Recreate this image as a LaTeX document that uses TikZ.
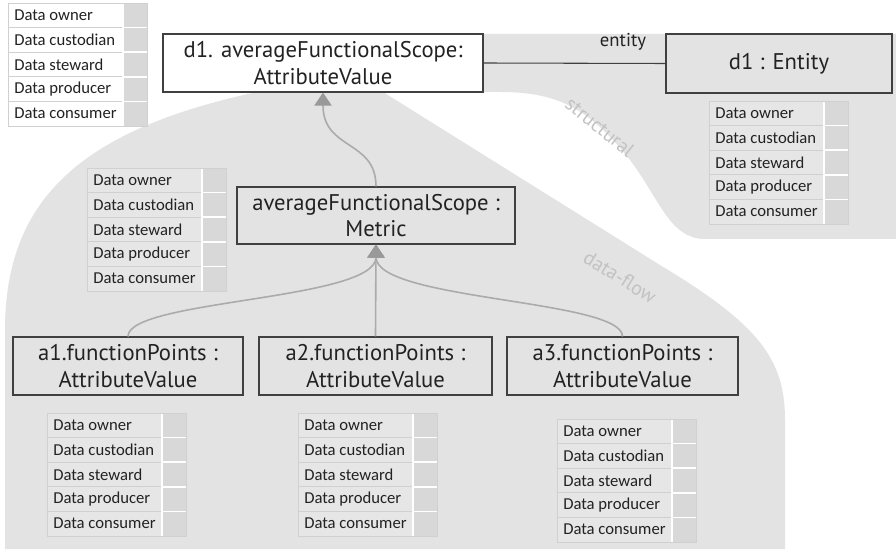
\documentclass[tikz,border=0pt]{standalone}
\usepackage{fontspec}
\setmainfont{Carlito}
\newfontfamily\boxfont{PT Sans}
\usetikzlibrary{arrows.meta}
\definecolor{regiongray}{HTML}{E3E3E3}
\definecolor{cellgray}{HTML}{E6E6E6}
\definecolor{rolecol}{HTML}{D8D8D8}
\definecolor{sepgray}{HTML}{D0D0D0}
\definecolor{boxline}{HTML}{404040}
\definecolor{textdark}{HTML}{222222}
\definecolor{connline}{HTML}{ABABAB}
\definecolor{arrowgray}{HTML}{999999}
\definecolor{labelgray}{HTML}{C2C2C2}
\newcommand\roletable[4]{%
  \begin{scope}[shift={(#2,#3)}]
    \fill[#4] (0,0) rectangle (115,123);
    \fill[rolecol] (115,0) rectangle (139,123);
    \foreach \k in {1,2,3,4}{
      \draw[sepgray,line width=0.7pt] (0,{24.6*\k}) -- (115,{24.6*\k});
      \draw[white,line width=1.1pt] (115,{24.6*\k}) -- (139,{24.6*\k});
    }
    \draw[white,line width=1.4pt] (115,0) -- (115,123);
    \draw[sepgray,line width=0.7pt] (0,0) rectangle (139,123);
    \foreach \k/\t in {0/Data owner,1/Data custodian,2/Data steward,3/Data producer,4/Data consumer}
      \node[roletext] (#1-\k) at (6,{12.3+24.6*\k}) {\t};
  \end{scope}}
\begin{document}
\begin{tikzpicture}[x=0.75pt,y=-0.75pt,
  region/.style={fill=regiongray},
  umlbox/.style={draw=boxline, line width=0.8pt, align=center, inner sep=0pt,
    font=\boxfont\fontsize{17}{20}\selectfont, text=textdark},
  conn/.style={draw=connline, line width=1.2pt},
  tipped/.style={-{Triangle[width=12.75pt,length=9.75pt,fill=arrowgray,color=arrowgray]}},
  roletext/.style={font=\fontsize{12.5}{14}\selectfont, text=textdark, inner sep=0pt, anchor=west},
  arealabel/.style={font=\boxfont\fontsize{15}{17}\selectfont, text=labelgray}
]
\useasboundingbox (0,0) rectangle (896,552);

% background regions
\fill[region] (300,34) -- (896,34) -- (896,239) -- (705,239)
  .. controls (670,239) and (660,200) .. (630,160)
  .. controls (590,110) and (560,92) .. (500,92) -- (300,92) -- cycle;
\fill[region] (257,92) -- (383,92) -- (660,265)
  .. controls (760,325) and (785,360) .. (785,420) -- (785,549) -- (5,549) -- (5,330)
  .. controls (5,200) and (80,130) .. (257,92) -- cycle;

\node[arealabel, rotate=-39] (lstruct) at (600,127) {structural};
\node[arealabel, rotate=-32] (lflow) at (620,277) {data-flow};

% tables
\roletable{t0}{8}{3}{white}
\roletable{te}{709}{101}{cellgray}
\roletable{tm}{87}{168}{cellgray}
\roletable{ta1}{47}{413}{cellgray}
\roletable{ta2}{298}{413}{cellgray}
\roletable{ta3}{557}{419}{cellgray}

% boxes
\node[umlbox, fill=white, minimum width=240pt, minimum height=43.5pt] (d1) at (323,63)
  {d1. averageFunctionalScope:\\AttributeValue};
\node[umlbox, minimum width=169.5pt, minimum height=44.25pt] (ent) at (779,63.5) {d1 : Entity};
\node[umlbox, minimum width=208.5pt, minimum height=42.75pt] (met) at (376,215.5)
  {averageFunctionalScope :\\Metric};
\node[umlbox, minimum width=172.5pt, minimum height=43.5pt] (a1) at (128,366)
  {a1.functionPoints :\\AttributeValue};
\node[umlbox, minimum width=174.75pt, minimum height=43.5pt] (a2) at (375.5,366)
  {a2.functionPoints :\\AttributeValue};
\node[umlbox, minimum width=173.25pt, minimum height=43.5pt] (a3) at (622.5,366)
  {a3.functionPoints :\\AttributeValue};

% entity association
\draw[boxline, line width=0.8pt] (d1.east) -- (ent.west);
\node[font=\boxfont\fontsize{14}{16}\selectfont, text=textdark] (lent) at (623,42) {entity};

% connectors
\draw[conn, tipped] (met.north) .. controls +(0,-47) and +(0,58) .. (d1.south);
\draw[conn, tipped] (a1.north) .. controls +(0,-37) and +(0,56) .. (met.south);
\draw[conn, tipped] (a3.north) .. controls +(0,-37) and +(0,56) .. (met.south);
\draw[conn, tipped] (a2.north) -- (met.south);
\end{tikzpicture}
\end{document}
